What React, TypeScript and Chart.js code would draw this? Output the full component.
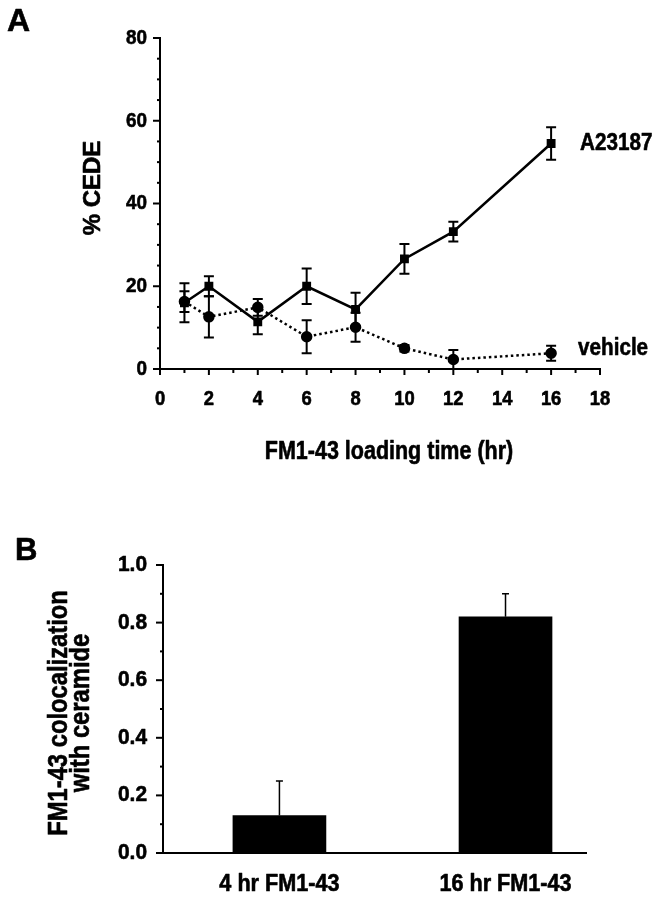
import React, { useEffect, useRef } from "react";
import { Chart, registerables } from "chart.js";

Chart.register(...registerables);

// ---------- Panel A data ----------
const timeHours = [1, 2, 4, 6, 8, 10, 12, 16];
const a23187Mean = [16.0, 20.0, 11.4, 20.0, 14.4, 26.6, 33.2, 54.5];
const a23187Err = [4.7, 2.4, 3.0, 4.3, 4.0, 3.6, 2.4, 3.9];
const vehicleMean = [16.3, 12.6, 14.9, 7.8, 10.1, 5.0, 2.3, 3.8];
const vehicleErr = [2.5, 5.0, 2.0, 4.0, 3.5, 0.8, 2.3, 1.8];

// ---------- Panel B data ----------
const conditions = ["4 hr FM1-43", "16 hr FM1-43"];
const colocMean = [0.13, 0.82];
const colocErr = [0.12, 0.08];

const SANS = "'Liberation Sans', Arial, sans-serif";

function drawText(
  ctx: CanvasRenderingContext2D,
  text: string,
  x: number,
  y: number,
  size: number,
  condense: number,
  align: CanvasTextAlign,
  baseline: CanvasTextBaseline,
  rotate = false
) {
  ctx.save();
  ctx.fillStyle = "#000";
  ctx.strokeStyle = "#000";
  ctx.lineWidth = 0.6;
  ctx.lineJoin = "round";
  ctx.font = `bold ${size}px ${SANS}`;
  ctx.textAlign = align;
  ctx.textBaseline = baseline;
  ctx.translate(x, y);
  if (rotate) ctx.rotate(-Math.PI / 2);
  ctx.scale(condense, 1);
  ctx.fillText(text, 0, 0);
  ctx.strokeText(text, 0, 0);
  ctx.restore();
}

type TextItem = {
  text: string;
  x: (c: any) => number;
  y: (c: any) => number;
  size: number;
  condense?: number;
  align?: CanvasTextAlign;
  baseline?: CanvasTextBaseline;
  rotate?: boolean;
};

const textPlugin = (items: TextItem[]) => ({
  id: "texts",
  afterDraw(chart: any) {
    items.forEach((it) =>
      drawText(
        chart.ctx,
        it.text,
        it.x(chart),
        it.y(chart),
        it.size,
        it.condense ?? 1,
        it.align || "center",
        it.baseline || "middle",
        !!it.rotate
      )
    );
  },
});

type AxisCfg = {
  isMajor: (v: number) => boolean;
  majorLen: number;
  minorLen: number;
  drawMarks: boolean;
  label: (v: number) => string | null;
  size: number;
  condense: number;
  offset: number;
};

const axisPlugin = (cfg: Record<string, AxisCfg>) => ({
  id: "axisMarks",
  afterDraw(chart: any) {
    const ctx = chart.ctx;
    Object.keys(cfg).forEach((id) => {
      const scale = chart.scales[id];
      const ct = cfg[id];
      if (!scale) return;
      scale.ticks.forEach((t: any, i: number) => {
        const p = scale.getPixelForTick(i);
        if (ct.drawMarks) {
          const len = ct.isMajor(t.value) ? ct.majorLen : ct.minorLen;
          ctx.save();
          ctx.strokeStyle = "#000";
          ctx.lineWidth = 2;
          ctx.beginPath();
          if (scale.axis === "y") {
            ctx.moveTo(scale.right - len, p);
            ctx.lineTo(scale.right, p);
          } else {
            ctx.moveTo(p, scale.top);
            ctx.lineTo(p, scale.top + len);
          }
          ctx.stroke();
          ctx.restore();
        }
        const txt = ct.label(t.value);
        if (txt) {
          if (scale.axis === "y") {
            drawText(ctx, txt, scale.right - ct.offset, p, ct.size, ct.condense, "right", "middle");
          } else {
            drawText(ctx, txt, p, scale.top + ct.offset, ct.size, ct.condense, "center", "middle");
          }
        }
      });
    });
  },
});

type ErrCfg = { errors: number[]; upOnly: boolean; width: number; capHalf: number };

const errorBarPlugin = (cfgs: (ErrCfg | null)[]) => ({
  id: "errorBars",
  afterDatasetsDraw(chart: any) {
    const ctx = chart.ctx;
    const xs = chart.scales.x;
    const ys = chart.scales.y;
    chart.data.datasets.forEach((ds: any, di: number) => {
      const c = cfgs[di];
      if (!c) return;
      ctx.save();
      ctx.strokeStyle = "#000";
      ctx.lineWidth = c.width;
      ds.data.forEach((pt: any, i: number) => {
        const e = c.errors[i];
        const x = xs.getPixelForValue(pt.x);
        const yTop = ys.getPixelForValue(pt.y + e);
        const yBot = ys.getPixelForValue(c.upOnly ? pt.y : pt.y - e);
        const cap = c.capHalf;
        ctx.beginPath();
        ctx.moveTo(x, yTop);
        ctx.lineTo(x, yBot);
        ctx.moveTo(x - cap, yTop);
        ctx.lineTo(x + cap, yTop);
        if (!c.upOnly) {
          ctx.moveTo(x - cap, yBot);
          ctx.lineTo(x + cap, yBot);
        }
        ctx.stroke();
      });
      ctx.restore();
    });
  },
});

function PanelA() {
  const ref = useRef<HTMLCanvasElement>(null);
  useEffect(() => {
    const texts: TextItem[] = [
      { text: "A", x: () => 7, y: () => 31, size: 32, align: "left", baseline: "alphabetic" },
      { text: "% CEDE", x: (c) => c.chartArea.left - 67, y: (c) => c.chartArea.top + 150, size: 24, condense: 1.0, rotate: true },
      { text: "FM1-43 loading time (hr)", x: (c) => c.chartArea.left + 229, y: (c) => c.chartArea.bottom + 83, size: 25, condense: 0.86 },
      {
        text: "A23187",
        x: (c) => c.scales.x.getPixelForValue(16) + 29,
        y: (c) => c.scales.y.getPixelForValue(a23187Mean[a23187Mean.length - 1]),
        size: 24,
        condense: 0.86,
        align: "left",
      },
      {
        text: "vehicle",
        x: (c) => c.scales.x.getPixelForValue(16) + 27,
        y: (c) => c.scales.y.getPixelForValue(vehicleMean[vehicleMean.length - 1]) - 5,
        size: 24,
        condense: 0.86,
        align: "left",
      },
    ];
    const chart = new Chart(ref.current!, {
      type: "scatter",
      data: {
        datasets: [
          {
            label: "A23187",
            data: timeHours.map((t, i) => ({ x: t, y: a23187Mean[i] })),
            showLine: true,
            borderColor: "#000",
            backgroundColor: "#000",
            borderWidth: 2.5,
            pointStyle: "rect",
            pointRadius: 4.5,
          },
          {
            label: "vehicle",
            data: timeHours.map((t, i) => ({ x: t, y: vehicleMean[i] })),
            showLine: true,
            borderColor: "#000",
            backgroundColor: "#000",
            borderWidth: 2.5,
            borderDash: [2.5, 3],
            pointStyle: "circle",
            pointRadius: 4.5,
          },
        ],
      },
      options: {
        animation: false,
        responsive: false,
        layout: { padding: { top: 38, right: 59, left: 0, bottom: 0 } },
        plugins: { legend: { display: false }, tooltip: { enabled: false } },
        scales: {
          x: {
            type: "linear",
            min: 0,
            max: 18,
            afterFit: (s: any) => {
              s.height = 101;
            },
            ticks: { stepSize: 1, autoSkip: false, display: false },
            grid: { display: false },
            border: { display: true, color: "#000", width: 2 },
          },
          y: {
            type: "linear",
            min: 0,
            max: 80,
            afterFit: (s: any) => {
              s.width = 160;
            },
            ticks: { stepSize: 5, autoSkip: false, display: false },
            grid: { display: false },
            border: { display: true, color: "#000", width: 2 },
          },
        },
      } as any,
      plugins: [
        errorBarPlugin([
          { errors: a23187Err, upOnly: false, width: 2, capHalf: 5 },
          { errors: vehicleErr, upOnly: false, width: 2, capHalf: 5 },
        ]),
        axisPlugin({
          x: {
            isMajor: (v) => v % 2 === 0,
            majorLen: 6,
            minorLen: 4,
            drawMarks: true,
            label: (v) => (v % 2 === 0 ? String(v) : null),
            size: 20,
            condense: 0.92,
            offset: 30,
          },
          y: {
            isMajor: (v) => v % 20 === 0,
            majorLen: 7,
            minorLen: 3,
            drawMarks: true,
            label: (v) => (v % 20 === 0 ? String(v) : null),
            size: 21,
            condense: 0.9,
            offset: 13,
          },
        }),
        textPlugin(texts),
      ],
    });
    return () => chart.destroy();
  }, []);
  return <canvas ref={ref} width={659} height={470} style={{ display: "block", width: 659, height: 470 }} />;
}

function PanelB() {
  const ref = useRef<HTMLCanvasElement>(null);
  useEffect(() => {
    const texts: TextItem[] = [
      { text: "B", x: () => 15, y: () => 90, size: 31, align: "left", baseline: "alphabetic" },
      {
        text: "FM1-43 colocalization",
        x: (c) => c.chartArea.left - 103,
        y: (c) => (c.chartArea.top + c.chartArea.bottom) / 2 + 4,
        size: 27,
        condense: 0.88,
        rotate: true,
      },
      {
        text: "with ceramide",
        x: (c) => c.chartArea.left - 81,
        y: (c) => (c.chartArea.top + c.chartArea.bottom) / 2 + 4,
        size: 27,
        condense: 0.88,
        rotate: true,
      },
    ];
    const chart = new Chart(ref.current!, {
      type: "bar",
      data: {
        datasets: [
          {
            label: "colocalization",
            data: conditions.map((_, i) => ({ x: i + 1, y: colocMean[i] })),
            backgroundColor: "#000",
            borderColor: "#000",
            borderWidth: 0,
            barThickness: 93,
          },
        ],
      },
      options: {
        animation: false,
        responsive: false,
        layout: { padding: { top: 95, right: 73, left: 0, bottom: 0 } },
        plugins: { legend: { display: false }, tooltip: { enabled: false } },
        scales: {
          x: {
            type: "linear",
            min: 0.485,
            max: 2.356,
            offset: false,
            afterFit: (s: any) => {
              s.height = 46;
            },
            afterBuildTicks: (s: any) => {
              s.ticks = conditions.map((_, i) => ({ value: i + 1 }));
            },
            ticks: { autoSkip: false, display: false },
            grid: { display: false },
            border: { display: true, color: "#000", width: 2 },
          },
          y: {
            type: "linear",
            min: 0,
            max: 1,
            afterFit: (s: any) => {
              s.width = 163;
            },
            ticks: { stepSize: 0.1, autoSkip: false, display: false },
            grid: { display: false },
            border: { display: true, color: "#000", width: 2 },
          },
        },
      } as any,
      plugins: [
        errorBarPlugin([{ errors: colocErr, upOnly: true, width: 1.5, capHalf: 3.5 }]),
        axisPlugin({
          x: {
            isMajor: () => true,
            majorLen: 0,
            minorLen: 0,
            drawMarks: false,
            label: (v) => conditions[Math.round(v) - 1] ?? null,
            size: 23,
            condense: 0.94,
            offset: 32,
          },
          y: {
            isMajor: (v) => Math.round(v * 10) % 2 === 0,
            majorLen: 7,
            minorLen: 3,
            drawMarks: true,
            label: (v) => (Math.round(v * 10) % 2 === 0 ? v.toFixed(1) : null),
            size: 22,
            condense: 0.95,
            offset: 16,
          },
        }),
        textPlugin(texts),
      ],
    });
    return () => chart.destroy();
  }, []);
  return <canvas ref={ref} width={659} height={429} style={{ display: "block", width: 659, height: 429 }} />;
}

export default function App() {
  return (
    <div style={{ position: "absolute", left: 0, top: 0, width: 659, height: 899, background: "#fff" }}>
      <PanelA />
      <PanelB />
    </div>
  );
}
